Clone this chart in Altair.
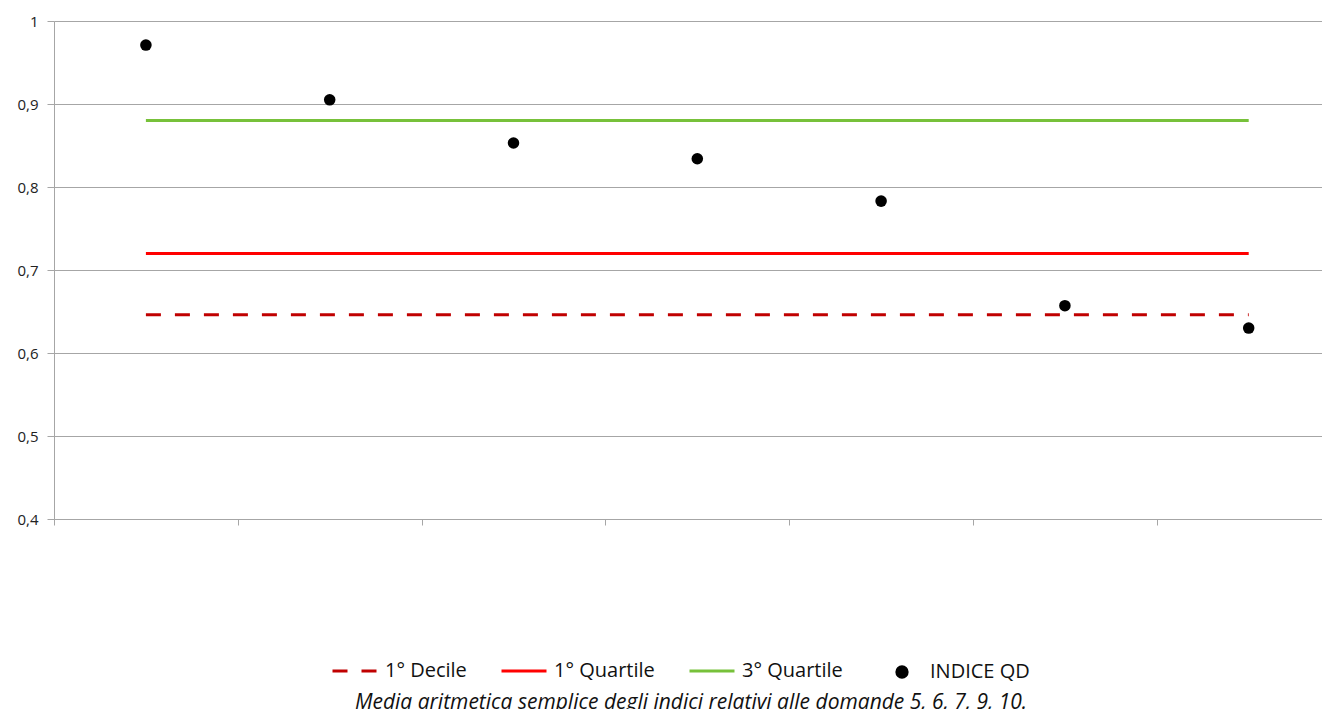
import altair as alt
import pandas as pd

# ---- data ----
categories = [1, 2, 3, 4, 5, 6, 7]
indice_qd = [0.971, 0.905, 0.853, 0.834, 0.783, 0.657, 0.630]
series_names = ["1° Decile", "1° Quartile", "3° Quartile"]
series_values = [0.646, 0.720, 0.880]
series_colors = ["#C00000", "#FF0000", "#77C13A"]
point_name = "INDICE QD"
y_ticks = [0.4, 0.5, 0.6, 0.7, 0.8, 0.9, 1.0]
caption = "Media aritmetica semplice degli indici relativi alle domande 5, 6, 7, 9, 10."

FONT = "Open Sans"
PLOT_W = 1268
BAND = 183.8

line_rows = []
for name, val in zip(series_names, series_values):
    for c in (categories[0], categories[-1]):
        line_rows.append({"series": name, "pos": c, "value": val})
line_df = pd.DataFrame(line_rows)
pt_df = pd.DataFrame({"pos": categories, "value": indice_qd, "name": [point_name] * len(categories)})
cap_df = pd.DataFrame({"t": [caption]})

x_ticks = [c - 0.5 for c in categories]

x_enc = alt.X(
    "pos:Q",
    scale=alt.Scale(domain=[0.5, 0.5 + PLOT_W / BAND], nice=False, zero=False),
    axis=alt.Axis(values=x_ticks, labels=False, grid=False, title=None,
                  domainColor="#A6A6A6", tickColor="#A6A6A6", tickSize=6),
)
y_enc = alt.Y(
    "value:Q",
    scale=alt.Scale(domain=[0.4, 1.0], nice=False, zero=False),
    axis=alt.Axis(values=y_ticks, title=None, grid=True, gridColor="#A6A6A6",
                  domainColor="#A6A6A6", tickColor="#A6A6A6", tickSize=7,
                  labelPadding=9, labelFontSize=15, labelColor="#222222",
                  labelFont=FONT,
                  labelExpr="datum.value == 1 ? '1' : replace(format(datum.value, '.1f'), '.', ',')"),
)

line_legend = alt.Legend(
    title=None, orient="none", direction="horizontal", legendX=277, legendY=626,
    symbolType="stroke", symbolSize=2025, symbolStrokeWidth=3,
    labelFont=FONT, labelFontSize=20, labelColor="#111111", labelOffset=6,
    columnPadding=28,
)

lines = alt.Chart(line_df).mark_line(strokeWidth=3).encode(
    x=x_enc,
    y=y_enc,
    color=alt.Color("series:N", scale=alt.Scale(domain=series_names, range=series_colors),
                    legend=line_legend),
    strokeDash=alt.StrokeDash("series:N",
                              scale=alt.Scale(domain=series_names, range=[[15, 14], [1, 0], [1, 0]]),
                              legend=line_legend),
)

points = alt.Chart(pt_df).mark_point(filled=True, size=133, opacity=1, color="black").encode(
    x=alt.X("pos:Q"),
    y=alt.Y("value:Q"),
    shape=alt.Shape("name:N", scale=alt.Scale(domain=[point_name], range=["circle"]),
                    legend=alt.Legend(title=None, orient="none", direction="horizontal",
                                      legendX=838, legendY=641, symbolSize=177,
                                      symbolFillColor="black", symbolStrokeColor="black",
                                      symbolStrokeWidth=0,
                                      labelFont=FONT, labelFontSize=20, labelColor="#111111",
                                      labelOffset=18)),
)

cap = alt.Chart(cap_df).mark_text(font=FONT, fontSize=21, fontStyle="italic", align="center",
                                  baseline="alphabetic", color="#111111").encode(
    x=alt.value(637), y=alt.value(688), text="t:N"
)

chart = alt.layer(lines, points, cap).properties(
    width=PLOT_W, height=498,
    autosize="none",
    padding={"left": 46, "top": 13, "right": 0, "bottom": 200},
).configure_view(stroke=None).configure(background="white")

chart.save("out.html", embed_options={"renderer": "svg", "actions": False})
